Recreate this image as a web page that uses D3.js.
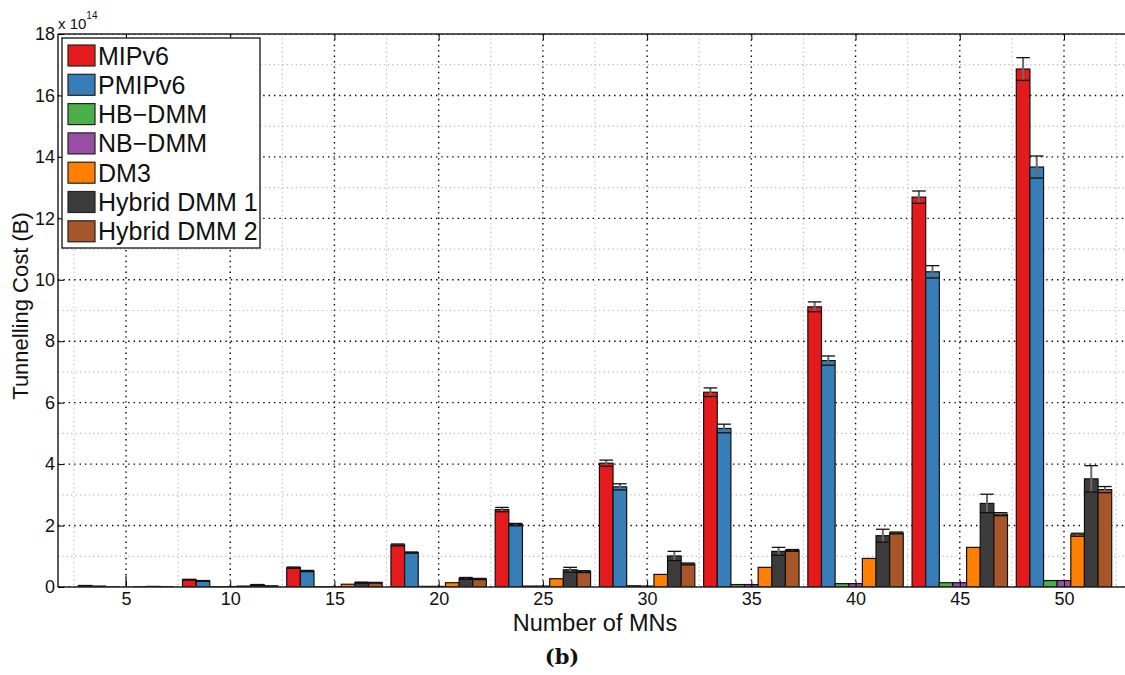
<!DOCTYPE html>
<html>
<head>
<meta charset="utf-8">
<script src="https://cdn.jsdelivr.net/npm/d3@7"></script>
<style>
  html, body { margin: 0; padding: 0; background: #fff; }
  svg { display: block; font-family: "Liberation Sans", Arial, Helvetica, sans-serif; }
</style>
</head>
<body>
<svg id="chart" width="1125" height="675"></svg>
<script>
// ---- data (values in units of 10^14 B) ----
const categories = [5, 10, 15, 20, 25, 30, 35, 40, 45, 50];
const seriesNames = ["MIPv6", "PMIPv6", "HB\u2212DMM", "NB\u2212DMM", "DM3", "Hybrid DMM 1", "Hybrid DMM 2"];
const seriesColors = ["#e41a1c", "#377eb8", "#4daf4a", "#984ea3", "#ff7f00", "#3c3c3c", "#a65628"];

const mipv6   = [0.05, 0.24, 0.63, 1.37, 2.52, 4.03, 6.34, 9.12, 12.69, 16.86];
const pmipv6  = [0.03, 0.20, 0.52, 1.12, 2.03, 3.26, 5.16, 7.37, 10.26, 13.67];
const hbdmm   = [0.003, 0.01, 0.01, 0.02, 0.03, 0.04, 0.08, 0.11, 0.14, 0.21];
const nbdmm   = [0.0, 0.01, 0.01, 0.02, 0.03, 0.03, 0.08, 0.11, 0.14, 0.21];
const dm3     = [0.005, 0.03, 0.09, 0.14, 0.27, 0.41, 0.64, 0.93, 1.29, 1.70];
const hybrid1 = [0.02, 0.07, 0.14, 0.28, 0.56, 1.01, 1.16, 1.67, 2.72, 3.52];
const hybrid2 = [0.01, 0.04, 0.14, 0.26, 0.50, 0.75, 1.19, 1.76, 2.37, 3.17];

const errMipv6   = [0, 0.01, 0.02, 0.03, 0.07, 0.10, 0.14, 0.16, 0.20, 0.37];
const errPmipv6  = [0, 0.01, 0.02, 0.02, 0.04, 0.10, 0.14, 0.15, 0.20, 0.36];
const errHbdmm   = [0, 0, 0, 0, 0, 0, 0, 0, 0, 0];
const errNbdmm   = [0.37, 0, 0, 0, 0, 0, 0, 0, 0, 0];
const errDm3     = [0, 0, 0, 0, 0, 0, 0, 0, 0, 0.05];
const errHybrid1 = [0, 0.01, 0.02, 0.03, 0.08, 0.15, 0.13, 0.21, 0.30, 0.43];
const errHybrid2 = [0, 0, 0.01, 0.02, 0.03, 0.03, 0.03, 0.03, 0.05, 0.10];

const yTicks = [0, 2, 4, 6, 8, 10, 12, 14, 16, 18];
const yMinorTicks = [1, 3, 5, 7, 9, 11, 13, 15, 17];
const xMinorTicks = [2.5, 7.5, 12.5, 17.5, 22.5, 27.5, 32.5, 37.5, 42.5, 47.5, 52.5];

const values = [mipv6, pmipv6, hbdmm, nbdmm, dm3, hybrid1, hybrid2];
const errors = [errMipv6, errPmipv6, errHbdmm, errNbdmm, errDm3, errHybrid1, errHybrid2];

// ---- layout ----
const svg = d3.select("#chart");
const L = 58, T = 34, B = 587;
const x = d3.scaleLinear().domain([5, 50]).range([126, 1064]);
const R = x(55 - x.invert(L));
const y = d3.scaleLinear().domain([0, 18]).range([B, T]);
const barW = 13.63; // pixels per bar

const defs = svg.append("defs");
defs.append("clipPath").attr("id", "plotclip")
  .append("rect").attr("x", L).attr("y", T).attr("width", R - L).attr("height", B - T);

// grid
const grid = svg.append("g").attr("clip-path", "url(#plotclip)");
grid.selectAll(".ymin").data(yMinorTicks).join("line")
  .attr("x1", L).attr("x2", R).attr("y1", d => y(d)).attr("y2", d => y(d))
  .attr("stroke", "#b8b8b8").attr("stroke-width", 1.2).attr("stroke-dasharray", "1.2,3.2");
grid.selectAll(".xmin").data(xMinorTicks).join("line")
  .attr("x1", d => x(d)).attr("x2", d => x(d)).attr("y1", T).attr("y2", B)
  .attr("stroke", "#b8b8b8").attr("stroke-width", 1.2).attr("stroke-dasharray", "1.2,3.2");
grid.selectAll(".ymaj").data(yTicks).join("line")
  .attr("x1", L).attr("x2", R).attr("y1", d => y(d)).attr("y2", d => y(d))
  .attr("stroke", "#000").attr("stroke-width", 1.4).attr("stroke-dasharray", "1.4,4");
grid.selectAll(".xmaj").data(categories).join("line")
  .attr("x1", d => x(d)).attr("x2", d => x(d)).attr("y1", T).attr("y2", B)
  .attr("stroke", "#000").attr("stroke-width", 1.4).attr("stroke-dasharray", "1.4,4");

// bars
const bars = svg.append("g").attr("clip-path", "url(#plotclip)");
values.forEach((vals, s) => {
  const g = bars.append("g");
  g.selectAll("rect").data(vals).join("rect")
    .attr("x", (d, i) => x(categories[i]) + (s - 3.5) * barW)
    .attr("y", d => y(d))
    .attr("width", barW)
    .attr("height", d => Math.max(0, B - y(d)))
    .attr("fill", seriesColors[s])
    .attr("stroke", "#111")
    .attr("stroke-width", 1.2);
});

// error bars
const eb = svg.append("g").attr("clip-path", "url(#plotclip)");
values.forEach((vals, s) => {
  vals.forEach((v, i) => {
    const e = errors[s][i];
    if (e <= 0) return;
    const cx = x(categories[i]) + (s - 3) * barW;
    eb.append("line").attr("x1", cx).attr("x2", cx)
      .attr("y1", y(Math.max(0, v - e))).attr("y2", y(v + e))
      .attr("stroke", "#6a6a6a").attr("stroke-width", 2);
    if (v > 0) {
      [v - e, v + e].forEach(t => {
        eb.append("line").attr("x1", cx - barW / 2).attr("x2", cx + barW / 2)
          .attr("y1", y(t)).attr("y2", y(t))
          .attr("stroke", "#111").attr("stroke-width", 1.3);
      });
    }
  });
});

// axes frame
svg.append("line").attr("x1", L).attr("x2", L).attr("y1", T).attr("y2", B).attr("stroke", "#000").attr("stroke-width", 1.3);
svg.append("line").attr("x1", L).attr("x2", R).attr("y1", B).attr("y2", B).attr("stroke", "#222").attr("stroke-width", 1.6);
svg.append("line").attr("x1", L).attr("x2", R).attr("y1", T).attr("y2", T).attr("stroke", "#222").attr("stroke-width", 1.6);

// ticks (inward)
const yAxis = d3.axisLeft(y).tickValues(yTicks).tickSize(-6).tickPadding(3).tickFormat(d3.format("d"));
const ya = svg.append("g").attr("transform", `translate(${L},0)`).call(yAxis);
ya.select(".domain").remove();
ya.selectAll("text").attr("font-size", 18).attr("fill", "#111")
  .attr("font-family", "'Liberation Sans', Arial, sans-serif");

const xAxis = d3.axisBottom(x).tickValues(categories).tickSize(-6).tickPadding(5).tickFormat(d3.format("d"));
const xa = svg.append("g").attr("transform", `translate(0,${B})`).call(xAxis);
xa.select(".domain").remove();
xa.selectAll("text").attr("font-size", 18).attr("fill", "#111")
  .attr("font-family", "'Liberation Sans', Arial, sans-serif");

const xAxisTop = d3.axisTop(x).tickValues(categories).tickSize(-6).tickFormat("");
const xt = svg.append("g").attr("transform", `translate(0,${T})`).call(xAxisTop);
xt.select(".domain").remove();

// exponent label
const expo = svg.append("text").attr("x", 58).attr("y", 29).attr("font-size", 15).attr("fill", "#111");
expo.append("tspan").text("x 10");
expo.append("tspan").attr("dy", -10).attr("font-size", 10).text("14");

// axis labels
svg.append("text").attr("x", 595).attr("y", 631).attr("text-anchor", "middle")
  .attr("font-size", 23.5).attr("fill", "#111").text("Number of MNs");
svg.append("text").attr("transform", "translate(28,306) rotate(-90)").attr("text-anchor", "middle")
  .attr("font-size", 22).attr("fill", "#111").text("Tunnelling Cost (B)");
svg.append("text").attr("x", 562).attr("y", 664).attr("text-anchor", "middle")
  .attr("font-family", "'DejaVu Serif', 'Liberation Serif', serif").attr("font-weight", "bold")
  .attr("font-size", 21).attr("fill", "#111").text("(b)");

// legend
const lg = svg.append("g");
lg.append("rect").attr("x", 62).attr("y", 38).attr("width", 198).attr("height", 210)
  .attr("fill", "#fff").attr("stroke", "#111").attr("stroke-width", 1.3);
seriesNames.forEach((name, i) => {
  const yy = 45 + i * 29.3;
  lg.append("rect").attr("x", 68).attr("y", yy).attr("width", 27).attr("height", 21)
    .attr("fill", seriesColors[i]).attr("stroke", "#222").attr("stroke-width", 1.2);
  lg.append("text").attr("x", 98).attr("y", yy + 19.5).attr("font-size", 25).attr("fill", "#111").text(name);
});
</script>
</body>
</html>
